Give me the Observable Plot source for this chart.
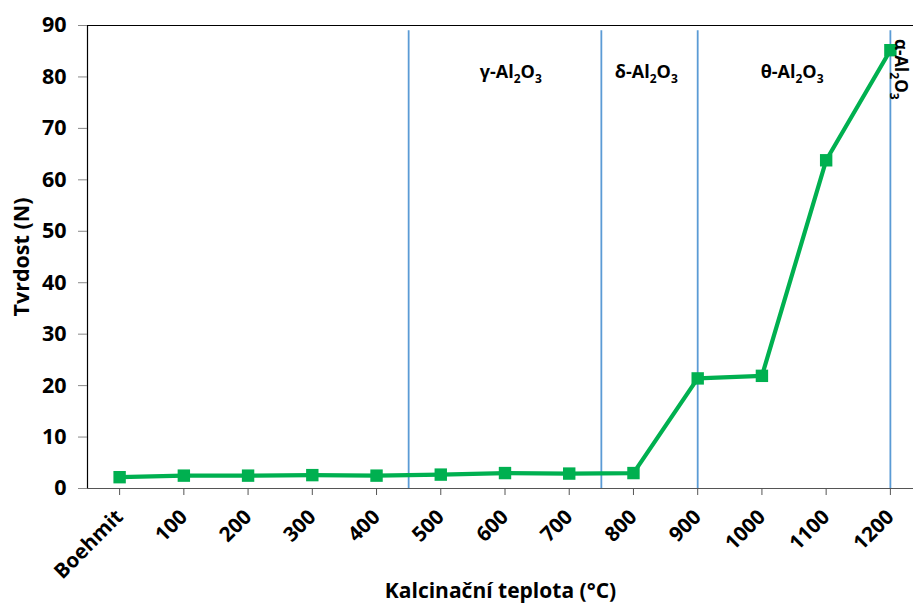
<!DOCTYPE html>
<html><head><meta charset="utf-8">
<script src="https://cdn.jsdelivr.net/npm/d3@7"></script>
<script src="https://cdn.jsdelivr.net/npm/@observablehq/plot@0.6"></script>
<style>html,body{margin:0;padding:0;background:#fff;overflow:hidden} svg{display:block}</style>
</head><body><div id="chart"></div>
<script>
// Categories along the x axis (calcination temperature)
const categories = ["Boehmit","100","200","300","400","500","600","700","800","900","1000","1100","1200"];
// Hardness values (N)
const hardness = [2.2, 2.5, 2.5, 2.6, 2.5, 2.7, 3.0, 2.9, 3.0, 21.4, 21.9, 63.8, 85.2];
// Phase boundaries (°C)
const phaseBoundaries = [450, 750, 900, 1200];
// Phase labels and their positions (in °C along the axis)
const phaseLabels = ["γ-Al2O3", "δ-Al2O3", "θ-Al2O3", "α-Al2O3"];
const phaseLabelX = [609, 820, 1047, 1215];
const phaseLabelY = [81, 81, 81, 81.5];
const phaseLabelRotate = [0, 0, 0, 90];
const yTicks = [0, 10, 20, 30, 40, 50, 60, 70, 80, 90];

const data = categories.map((c, i) => ({i, c, v: hardness[i]}));
const bounds = phaseBoundaries.map(t => ({x: t / 100}));
const labels = phaseLabels.map((t, k) => ({t, x: phaseLabelX[k] / 100, y: phaseLabelY[k], r: phaseLabelRotate[k], fs: k === 3 ? 17 : 18}));

const green = "#00B050";
const blue = "#5B9BD5";

const plot = Plot.plot({
  width: 913,
  height: 603,
  marginLeft: 87,
  marginRight: 0,
  marginTop: 25,
  marginBottom: 115,
  style: {fontFamily: "'Open Sans', sans-serif", fontSize: "20px", fontWeight: "bold", color: "#000", background: "#fff", overflow: "hidden"},
  x: {type: "linear", domain: [-0.5, 12.5], range: [87, 922]},
  y: {domain: [0, 90]},
  marks: [
    Plot.ruleY([90], {stroke: "#000", strokeWidth: 1.2}),
    Plot.ruleY([0], {stroke: "#555", strokeWidth: 1.2}),
    Plot.ruleX([-0.5], {stroke: "#000", strokeWidth: 1.2}),
    Plot.ruleX(bounds, {x: "x", y1: 0, y2: 89, stroke: blue, strokeWidth: 1.8}),
    Plot.axisY({ticks: yTicks, tickSize: 9, tickPadding: 12, stroke: "#888", fill: "#000", label: null, fontSize: 21.5, fontWeight: "bold"}),
    Plot.axisX({ticks: d3.range(categories.length), tickFormat: i => categories[i], tickRotate: -45, tickSize: 7, tickPadding: 18, stroke: "#555", fill: "#000", label: null, fontSize: 20.5, fontWeight: "bold"}),
    Plot.line(data, {x: "i", y: "v", stroke: green, strokeWidth: 4.2}),
    Plot.dot(data, {x: "i", y: "v", symbol: "square", r: 7, fill: green, stroke: "none"}),
    Plot.text(labels, {x: "x", y: "y", text: "t", rotate: "r", fontSize: "fs", fontWeight: "bold", fill: "#000", className: "phase"}),
    Plot.text(["Kalcinační teplota (°C)"], {frameAnchor: "bottom", dy: 109, fontSize: 21, fontWeight: "bold", fill: "#000"}),
    Plot.text(["Tvrdost (N)"], {frameAnchor: "left", dx: -65, rotate: -90, textAnchor: "middle", fontSize: 21.5, fontWeight: "bold", fill: "#000"})
  ]
});

// Render digits in the chemical formulas as subscripts
d3.select(plot).selectAll(".phase text").each(function() {
  const el = d3.select(this);
  const s = el.text();
  el.text(null);
  const parts = s.match(/(\d+|[^\d]+)/g);
  parts.forEach(p => {
    if (/^\d+$/.test(p)) {
      el.append("tspan").attr("font-size", 12).attr("dy", "5").text(p);
    } else {
      const t = el.append("tspan").text(p);
      if (el.selectAll("tspan").size() > 1) t.attr("dy", "-5");
    }
  });
});

document.getElementById("chart").appendChild(plot);
</script>
</body></html>
